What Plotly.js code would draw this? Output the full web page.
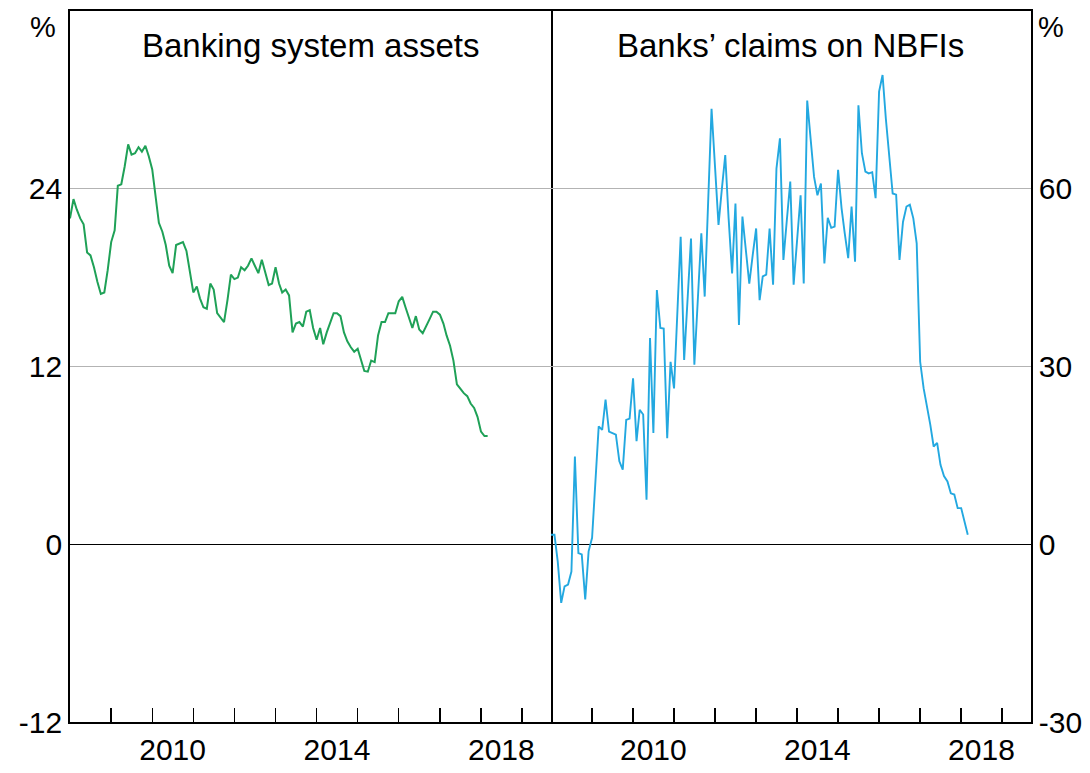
<!DOCTYPE html>
<html>
<head>
<meta charset="utf-8">
<script src="https://cdn.plot.ly/plotly-3.0.1.min.js"></script>
<style>html,body{margin:0;padding:0;background:#fff;}#chart{width:1090px;height:773px;}</style>
</head>
<body>
<div id="chart"></div>
<script>
// Monthly series, starting January 2008
const startYear = 2008;
const bankingAssets = [
  22.0, 23.3, 22.6, 22.0, 21.6, 19.7, 19.5, 18.7, 17.7, 16.9, 17.0, 18.5,
  20.4, 21.2, 24.2, 24.3, 25.5, 27.0, 26.3, 26.4, 26.8, 26.5, 26.9, 26.2,
  25.3, 23.2, 21.7, 21.1, 20.2, 18.8, 18.3, 20.2, 20.3, 20.4, 19.8, 18.3,
  17.0, 17.4, 16.6, 16.0, 15.9, 17.6, 17.2, 15.6, 15.3, 15.0, 16.5, 18.2,
  17.9, 18.0, 18.7, 18.5, 18.8, 19.3, 18.8, 18.3, 19.2, 18.3, 17.5, 17.6,
  18.7, 17.6, 17.0, 17.2, 16.8, 14.3, 14.9, 15.0, 14.7, 15.7, 15.8, 14.6,
  13.8, 14.6, 13.5, 14.3, 15.0, 15.6, 15.6, 15.4, 14.3, 13.7, 13.3, 13.0,
  13.2, 12.4, 11.7, 11.65, 12.4, 12.3, 14.1, 15.0, 15.0, 15.6, 15.6, 15.6,
  16.4, 16.7, 16.0, 15.3, 14.6, 15.4, 14.5, 14.25, 14.7, 15.2, 15.7, 15.7,
  15.5, 14.9, 14.1, 13.4, 12.4, 10.8, 10.5, 10.2, 10.0, 9.5, 9.2, 8.6,
  7.6, 7.3, 7.3
];
const claimsNBFI = [
  1.6, 1.6, -2.9, -9.9, -7.1, -6.8, -4.6, 14.8, -1.5, -1.7, -9.3, -1.2,
  1.1, 10.5, 19.9, 19.3, 24.4, 19.0, 18.8, 18.5, 14.0, 12.6, 21.0, 21.2,
  28.0, 17.4, 22.7, 21.9, 7.5, 34.8, 18.8, 42.9, 36.5, 36.4, 17.9, 30.8,
  26.3, 40.0, 51.9, 31.1, 41.0, 51.6, 30.3, 41.0, 52.5, 41.8, 57.6, 73.5,
  63.7, 53.9, 59.8, 65.7, 55.0, 45.7, 57.5, 37.0, 55.3, 49.6, 44.0, 48.7,
  53.3, 41.2, 45.2, 45.5, 53.3, 43.8, 63.4, 68.5, 48.0, 54.6, 61.2, 43.8,
  51.3, 58.9, 44.0, 74.9, 68.5, 62.0, 58.9, 60.9, 47.4, 55.1, 53.4, 53.6,
  63.2, 56.7, 52.5, 48.3, 57.0, 47.7, 74.1, 66.0, 62.9, 62.6, 62.8, 58.4,
  76.4, 79.2, 71.9, 65.0, 59.2, 59.0, 48.0, 54.4, 57.0, 57.3, 55.0, 50.8,
  30.8, 26.3, 23.5, 20.2, 16.5, 17.1, 13.4, 11.5, 10.6, 8.6, 8.4, 6.1,
  6.1, 3.9, 1.6
];
const leftTitle = 'Banking system assets';
const rightTitle = 'Banks’ claims on NBFIs';
const yearLabels = ['2010', '2014', '2018'];
const yearTickYears = [2009, 2010, 2011, 2012, 2013, 2014, 2015, 2016, 2017, 2018, 2019];
const leftYTicks = [-12, 0, 12, 24];
const rightYTicks = [-30, 0, 30, 60];

function monthDates(n) {
  const out = [];
  for (let i = 0; i < n; i++) {
    const y = startYear + Math.floor(i / 12);
    const m = (i % 12) + 1;
    out.push(y + '-' + (m < 10 ? '0' + m : m) + '-01');
  }
  return out;
}

const FONT = 'Arial, "Liberation Sans", sans-serif';
const xRange = ['2008-01-01', '2019-09-15'];
const labelVals = yearLabels.map(y => y + '-07-01');
const minorVals = yearTickYears.map(y => y + '-01-01');

function xAxis(domain, anchor) {
  return {
    domain: domain, anchor: anchor, type: 'date', range: xRange,
    tickmode: 'array', tickvals: labelVals, ticktext: yearLabels,
    ticks: '', showgrid: false, zeroline: false,
    showline: true, mirror: true, linecolor: '#000', linewidth: 1.8,
    tickfont: {family: FONT, size: 30, color: '#000'},
    minor: {tickmode: 'array', tickvals: minorVals, ticks: 'inside', ticklen: 14,
            tickwidth: 1.4, tickcolor: '#000', showgrid: false},
    fixedrange: true
  };
}
function yAxis(range, ticks, anchor, side, mirror) {
  return {
    anchor: anchor, side: side, range: range,
    tickmode: 'array', tickvals: ticks, ticktext: ticks.map(String),
    ticks: '', showgrid: true, gridcolor: '#b3b3b3', gridwidth: 1.3,
    zeroline: true, zerolinecolor: '#000', zerolinewidth: 1.5,
    showline: true, mirror: mirror, linecolor: '#000', linewidth: 1.8,
    tickfont: {family: FONT, size: 30, color: '#000'},
    fixedrange: true
  };
}

const traces = [
  {x: monthDates(bankingAssets.length), y: bankingAssets, xaxis: 'x', yaxis: 'y',
   type: 'scatter', mode: 'lines', line: {color: '#1fa157', width: 2}, hoverinfo: 'skip'},
  {x: monthDates(claimsNBFI.length), y: claimsNBFI, xaxis: 'x2', yaxis: 'y2',
   type: 'scatter', mode: 'lines', line: {color: '#23a8e0', width: 1.9}, hoverinfo: 'skip'}
];

const layout = {
  width: 1090, height: 773,
  margin: {l: 70, r: 59, t: 11, b: 51, pad: 0},
  paper_bgcolor: '#fff', plot_bgcolor: '#fff',
  showlegend: false,
  xaxis: xAxis([0, 0.5005], 'y'),
  xaxis2: xAxis([0.5005, 1], 'y2'),
  yaxis: yAxis([-12, 36], leftYTicks, 'x', 'left', true),
  yaxis2: yAxis([-30, 90], rightYTicks, 'x2', 'right', false),
  annotations: [
    {text: leftTitle, xref: 'x domain', yref: 'paper', x: 0.5, y: 0.952,
     xanchor: 'center', yanchor: 'middle', showarrow: false,
     font: {family: FONT, size: 33, color: '#000'}},
    {text: rightTitle, xref: 'x2 domain', yref: 'paper', x: 0.5, y: 0.952,
     xanchor: 'center', yanchor: 'middle', showarrow: false,
     font: {family: FONT, size: 33, color: '#000'}},
    {text: '%', xref: 'paper', yref: 'paper', x: -0.028, y: 0.978,
     xanchor: 'center', yanchor: 'middle', showarrow: false,
     font: {family: FONT, size: 29, color: '#000'}},
    {text: '%', xref: 'paper', yref: 'paper', x: 1.021, y: 0.978,
     xanchor: 'center', yanchor: 'middle', showarrow: false,
     font: {family: FONT, size: 29, color: '#000'}}
  ]
};

Plotly.newPlot('chart', traces, layout, {displayModeBar: false, staticPlot: true});
</script>
</body>
</html>
